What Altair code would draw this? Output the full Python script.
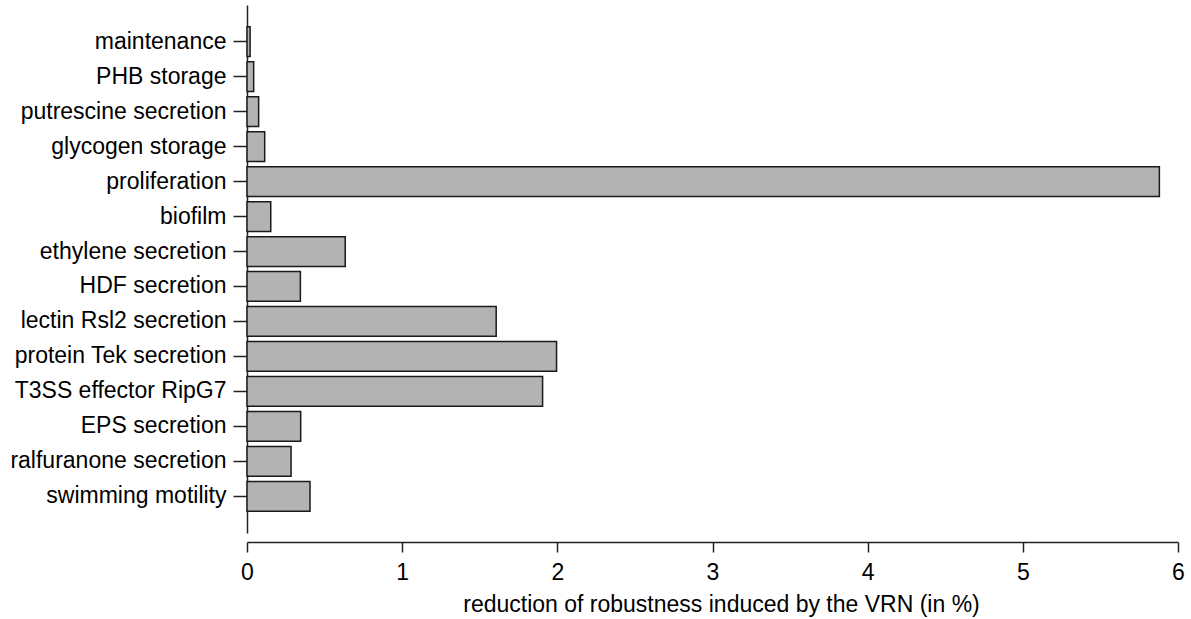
import altair as alt
import pandas as pd

categories = [
    "maintenance", "PHB storage", "putrescine secretion", "glycogen storage",
    "proliferation", "biofilm", "ethylene secretion", "HDF secretion",
    "lectin Rsl2 secretion", "protein Tek secretion", "T3SS effector RipG7",
    "EPS secretion", "ralfuranone secretion", "swimming motility",
]
values = [0.02, 0.043, 0.075, 0.114, 5.88, 0.153, 0.633, 0.344,
          1.606, 1.995, 1.905, 0.346, 0.284, 0.406]
x_ticks = [0, 1, 2, 3, 4, 5, 6]

df = pd.DataFrame({"task": categories, "value": values})

FONT = "Liberation Sans"
FS = 23

chart = alt.Chart(df).mark_bar(
    fill="#b3b3b3", stroke="#1a1a1a", strokeWidth=1.5
).encode(
    y=alt.Y(
        "task:N", sort=categories,
        scale=alt.Scale(paddingInner=0.15, paddingOuter=0.62),
        axis=alt.Axis(
            title=None, tickSize=14, labelFontSize=FS, labelFont=FONT,
            labelColor="#000000", domainColor="#222222", tickColor="#222222",
            domainWidth=1.5, tickWidth=1.5, labelPadding=7, bandPosition=0.5,
            labelLimit=0, grid=False,
        ),
    ),
    x=alt.X(
        "value:Q",
        scale=alt.Scale(domain=[0, 6], nice=False),
        axis=alt.Axis(
            title="reduction of robustness induced by the VRN (in %)",
            values=x_ticks, offset=9, tickSize=10, labelFontSize=FS,
            labelFont=FONT, titleFont=FONT, titleFontSize=FS,
            titleFontWeight="normal", labelColor="#000000", titleColor="#000000",
            domainColor="#222222", tickColor="#222222", domainWidth=1.5,
            tickWidth=1.5, labelPadding=9, titlePadding=9, labelFlush=False,
            titleX=474, titleAlign="center", grid=False,
        ),
    ),
).properties(
    width=931, height=528,
    background="white",
    autosize=alt.AutoSizeParams(type="none"),
    padding={"left": 247, "top": 5, "right": 13, "bottom": 86},
).configure_view(strokeWidth=0, stroke="transparent")

chart.save("out.html", embed_options={"renderer": "svg", "actions": False})
